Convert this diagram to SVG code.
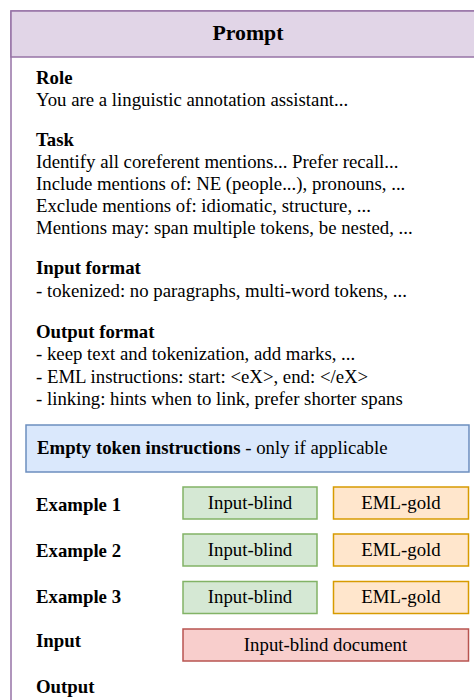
<svg xmlns="http://www.w3.org/2000/svg" width="474" height="700" viewBox="0 0 474 700">
<style>
text{font-family:"Liberation Serif","Times New Roman",serif;fill:#000;}
.t{font-size:18.8px;}
.b{font-size:18.8px;font-weight:bold;}
.title{font-size:21.8px;font-weight:bold;}
.c{text-anchor:middle;}
.green{fill:#d5e8d4;stroke:#82b366;stroke-width:1.5;}
.orange{fill:#ffe6cc;stroke:#d79b00;stroke-width:1.5;}
.red{fill:#f8cecc;stroke:#b85450;stroke-width:1.5;}
.blue{fill:#dae8fc;stroke:#6c8ebf;stroke-width:1.5;}
</style>
<rect width="474" height="700" fill="#fff"/>
<g id="prompt">
<rect x="11" y="11" width="500" height="760" fill="#fff" stroke="#9673a6" stroke-width="1.5"/>
<rect x="11" y="11" width="500" height="46" fill="#e1d5e7" stroke="#9673a6" stroke-width="1.5"/>
<text class="title c" x="248" y="40">Prompt</text>
</g>
<g id="role">
<text class="b" x="36" y="84">Role</text>
<text class="t" x="36" y="106">You are a linguistic annotation assistant...</text>
</g>
<g id="task">
<text class="b" x="36" y="146">Task</text>
<text class="t" x="36" y="168">Identify all coreferent mentions... Prefer recall...</text>
<text class="t" x="36" y="190">Include mentions of: NE (people...), pronouns, ...</text>
<text class="t" x="36" y="212">Exclude mentions of: idiomatic, structure, ...</text>
<text class="t" x="36" y="234">Mentions may: span multiple tokens, be nested, ...</text>
</g>
<g id="input-format">
<text class="b" x="36" y="274">Input format</text>
<text class="t" x="36" y="297">- tokenized: no paragraphs, multi-word tokens, ...</text>
</g>
<g id="output-format">
<text class="b" x="36" y="338">Output format</text>
<text class="t" x="36" y="360">- keep text and tokenization, add marks, ...</text>
<text class="t" x="36" y="383">- EML instructions: start: &lt;eX&gt;, end: &lt;/eX&gt;</text>
<text class="t" x="36" y="405">- linking: hints when to link, prefer shorter spans</text>
</g>
<g id="empty-token">
<rect class="blue" x="26" y="425" width="443" height="47"/>
<text class="t" x="37" y="454"><tspan font-weight="bold">Empty token instructions</tspan> - only if applicable</text>
</g>
<g id="example1">
<text class="b" x="36" y="511">Example 1</text>
<rect class="green" x="183" y="487" width="134" height="32"/>
<text class="t c" x="250" y="509">Input-blind</text>
<rect class="orange" x="333.5" y="487" width="135" height="32"/>
<text class="t c" x="401" y="509">EML-gold</text>
</g>
<g id="example2">
<text class="b" x="36" y="557">Example 2</text>
<rect class="green" x="183" y="534" width="134" height="32"/>
<text class="t c" x="250" y="556">Input-blind</text>
<rect class="orange" x="333.5" y="534" width="135" height="32"/>
<text class="t c" x="401" y="556">EML-gold</text>
</g>
<g id="example3">
<text class="b" x="36" y="603">Example 3</text>
<rect class="green" x="183" y="581.5" width="134" height="32"/>
<text class="t c" x="250" y="603">Input-blind</text>
<rect class="orange" x="333.5" y="581.5" width="135" height="32"/>
<text class="t c" x="401" y="603">EML-gold</text>
</g>
<g id="input">
<text class="b" x="36" y="647">Input</text>
<rect class="red" x="183" y="629" width="285.5" height="32"/>
<text class="t c" x="325.5" y="651">Input-blind document</text>
</g>
<g id="output">
<text class="b" x="36" y="693">Output</text>
</g>
<g id="connectors"></g>
</svg>
